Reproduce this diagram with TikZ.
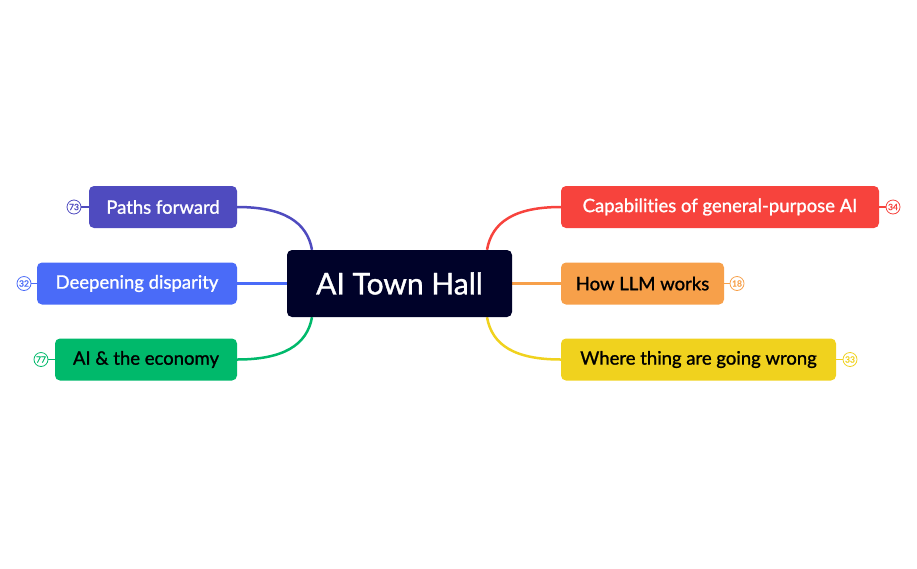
\documentclass[tikz,border=0pt]{standalone}
\usepackage{fontspec}
\setmainfont{Lato}[FakeBold=1.2,Ligatures=NoCommon]
\usepackage{xcolor}
\usetikzlibrary{positioning,backgrounds}
\definecolor{hubbg}{HTML}{000229}
\definecolor{pathc}{HTML}{4F4BBF}
\definecolor{dispc}{HTML}{4A6BF8}
\definecolor{econc}{HTML}{00B96B}
\definecolor{capc}{HTML}{F7433D}
\definecolor{llmc}{HTML}{F7A04A}
\definecolor{wrongc}{HTML}{F0D21E}
\tikzset{
  hub/.style   = {rounded corners=5pt, fill=hubbg, text=white, minimum width=225pt,
                  minimum height=67pt, font=\fontsize{30}{33}\selectfont},
  topic/.style = {rounded corners=5pt, minimum height=42pt, inner sep=0pt,
                  font=\fontsize{18.5}{21}\selectfont},
  badge/.style = {circle, draw, line width=0.8pt, fill=white, minimum size=14pt,
                  inner sep=0pt, font=\fontsize{8.5}{9}\selectfont},
  link/.style  = {line width=2.5pt},
  tick/.style  = {line width=1.2pt},
}
\begin{document}
\begin{tikzpicture}[x=1pt,y=-1pt]
  \useasboundingbox (0,0) rectangle (917,568);
  \node[hub] (hall) at (399.5,283.5) {AI Town Hall};
  % right side
  \node[topic, fill=capc, text=white, minimum width=318pt] (cap) at (720,207) {Capabilities of general-purpose AI};
  \node[topic, fill=llmc, text=black, minimum width=163pt] (llm) at (642.5,283.5) {How LLM works};
  \node[topic, fill=wrongc, text=black, minimum width=275pt] (wrong) at (698.5,359.5) {Where thing are going wrong};
  % left side
  \node[topic, fill=pathc, text=white, minimum width=148pt] (path) at (163,207) {Paths forward};
  \node[topic, fill=dispc, text=white, minimum width=200pt] (disp) at (137,283.5) {Deepening disparity};
  \node[topic, fill=econc, text=black, minimum width=182pt] (econ) at (146,359.5) {AI \& the economy};
  % counters
  \node[badge, draw=capc, text=capc] (capn) at (893,207) {34};
  \node[badge, draw=llmc, text=llmc] (llmn) at (737,283.5) {18};
  \node[badge, draw=wrongc, text=wrongc] (wrongn) at (850,359.5) {33};
  \node[badge, draw=pathc, text=pathc] (pathn) at (74,207) {73};
  \node[badge, draw=dispc, text=dispc] (dispn) at (24,283.5) {32};
  \node[badge, draw=econc, text=econc] (econn) at (41,359.5) {77};
  \begin{scope}[on background layer]
    \draw[link, capc] ([xshift=87.5pt]hall.north) .. controls +(5,-28) and +(-46,0) .. (cap.west);
    \draw[link, llmc] (hall.east) -- (llm.west);
    \draw[link, wrongc] ([xshift=87.5pt]hall.south) .. controls +(5,28) and +(-46,0) .. (wrong.west);
    \draw[link, pathc] ([xshift=-87.5pt]hall.north) .. controls +(-5,-28) and +(46,0) .. (path.east);
    \draw[link, dispc] (hall.west) -- (disp.east);
    \draw[link, econc] ([xshift=-87.5pt]hall.south) .. controls +(-5,28) and +(46,0) .. (econ.east);
    \draw[tick, capc] (cap) -- (capn);
    \draw[tick, llmc] (llm) -- (llmn);
    \draw[tick, wrongc] (wrong) -- (wrongn);
    \draw[tick, pathc] (path) -- (pathn);
    \draw[tick, dispc] (disp) -- (dispn);
    \draw[tick, econc] (econ) -- (econn);
  \end{scope}
\end{tikzpicture}
\end{document}
